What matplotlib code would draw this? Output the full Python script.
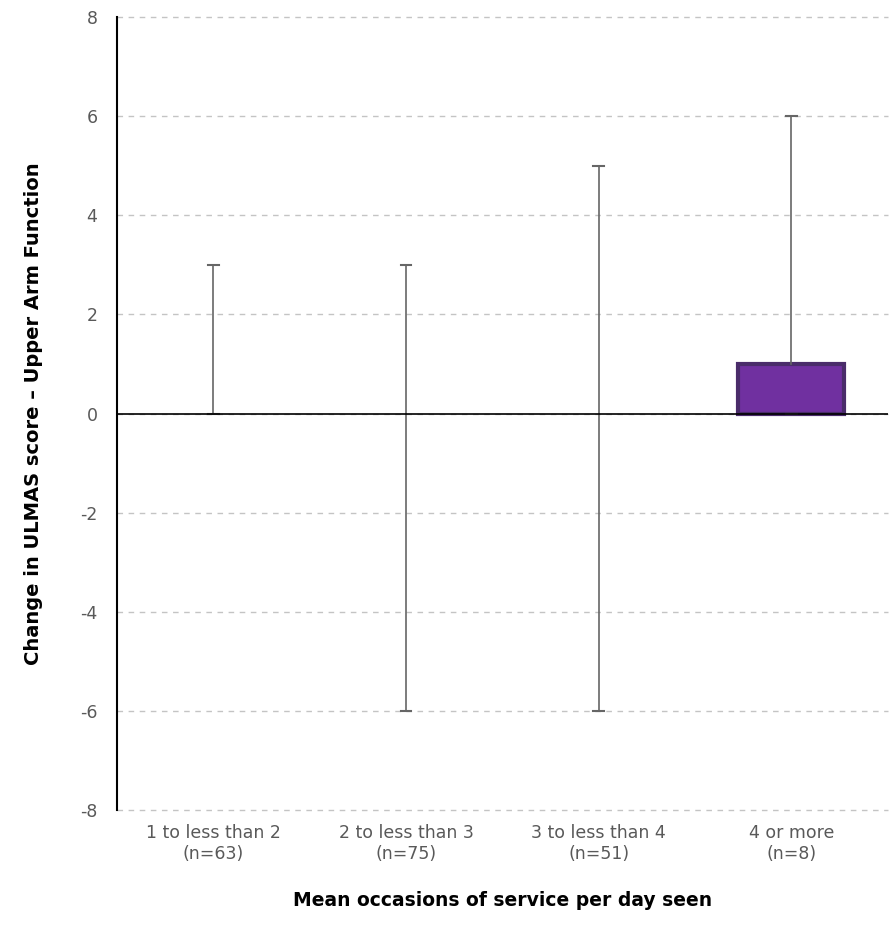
import matplotlib
matplotlib.use('Agg')
import matplotlib.pyplot as plt

plt.rcParams['axes.unicode_minus'] = False

# dados
categorias = ['1 to less than 2\n(n=63)', '2 to less than 3\n(n=75)',
              '3 to less than 4\n(n=51)', '4 or more\n(n=8)']
minimos = [0, -6, -6, 0]
q1 = [0, 0, 0, 0]
medianas = [0, 0, 0, 0]
q3 = [0, 0, 0, 1]
maximos = [3, 3, 5, 6]

fig = plt.figure(figsize=(8.95, 9.3), dpi=100)
ax = fig.add_axes([0.1307, 0.129, 0.8613, 0.8527])

stats = []
for i in range(len(categorias)):
    stats.append({'whislo': minimos[i], 'q1': q1[i], 'med': medianas[i],
                  'q3': q3[i], 'whishi': maximos[i], 'fliers': []})

caixas = ax.bxp(stats, positions=range(len(categorias)), widths=0.55, capwidths=0.055,
                patch_artist=True, showfliers=False,
                boxprops=dict(facecolor='#7030a0', edgecolor='#4a2c6a', linewidth=3),
                whiskerprops=dict(color='#666666', linewidth=1.2),
                capprops=dict(color='#666666', linewidth=1.5),
                medianprops=dict(color='#4a2c6a', linewidth=0))
# caixas com altura zero nao aparecem no original
for i, b in enumerate(caixas['boxes']):
    if q3[i] == q1[i]:
        b.set_visible(False)

ax.axhline(0, color='black', linewidth=1.2, zorder=3)
ax.set_ylim(-8, 8)
ax.set_xlim(-0.5, 3.5)
ax.set_yticks(range(-8, 9, 2))
ax.yaxis.grid(True, linestyle=(0, (4, 4)), color='#c4c4c4', linewidth=1)
for g in ax.get_ygridlines():
    g.set_clip_on(False)
ax.set_axisbelow(True)
for s in ['top', 'right', 'bottom']:
    ax.spines[s].set_visible(False)
ax.spines['left'].set_color('black')
ax.spines['left'].set_linewidth(1.5)
ax.tick_params(length=0, colors='#595959', labelsize=12.5)
ax.tick_params(axis='y', pad=14)
ax.tick_params(axis='x', pad=10)
ax.set_xticks(range(len(categorias)))
ax.set_xticklabels(categorias, linespacing=1.25)

ax.set_xlabel('Mean occasions of service per day seen', fontsize=13.5,
              fontweight='bold', labelpad=20)
ax.set_ylabel('Change in ULMAS score \u2013 Upper Arm Function', fontsize=14,
              fontweight='bold', labelpad=27)

fig.savefig('out.png', dpi=100)
